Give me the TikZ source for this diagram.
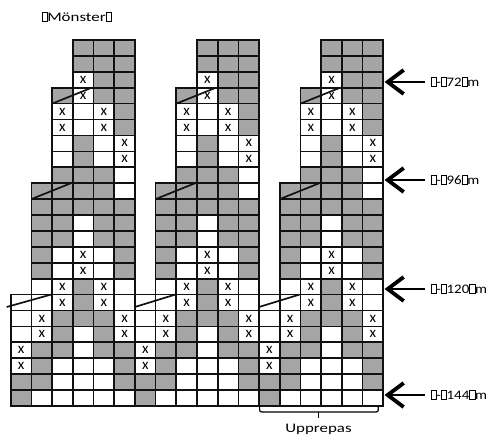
\documentclass[tikz,border=0pt]{standalone}
\usepackage{fontspec}
\setmainfont{Carlito}
\newfontfamily\lblfont[FakeStretch=1.3]{Carlito}
\newfontfamily\measfont[FakeStretch=1.15]{Carlito}
\usetikzlibrary{arrows.meta,positioning}
\definecolor{cellgray}{HTML}{A5A5A5}
\definecolor{gridline}{HTML}{111111}
\newcommand{\gbox}{{\fboxsep=0pt\fboxrule=0.5pt\fbox{\rule{0pt}{0.68em}\hspace{0.36em}}}}
\def\nocell{n}
\def\cellmarkx{x}
\def\cellmarkg{}
\def\cellmarkw{}
\tikzset{
  cellbase/.style={draw=gridline, line width=1.7pt, minimum width=20.7pt,
               minimum height=15.91pt, inner sep=0pt, outer sep=0pt,
               font=\fontsize{15}{15}\selectfont},
  cellg/.style={cellbase, fill=cellgray},
  cellw/.style={cellbase, fill=white},
  cellx/.style={cellbase, fill=white},
  slant/.style={line width=1.7pt, draw=gridline},
  lbl/.style={font=\lblfont\fontsize{13}{15}\selectfont, inner sep=0pt},
  meas/.style={font=\measfont\fontsize{13}{15}\selectfont, inner sep=0pt},
  markarrow/.style={-{Straight Barb[length=16pt,width=24pt,line width=3.8pt]},
               line width=1.6pt, shorten <=6pt},
  brack/.style={line width=1.2pt, rounded corners=2pt},
}

\begin{document}
\begin{tikzpicture}[x=1pt,y=-1pt]
  \useasboundingbox (0,0) rectangle (494,436);

  % chart, three repeats of six stitches, rows from the top
  \foreach \cells [count=\rw from 0] in {
    {n,n,n,g,g,g},
    {n,n,n,g,g,g},
    {n,n,n,x,g,g},
    {n,n,g,x,g,g},
    {n,n,x,w,x,g},
    {n,n,x,w,x,g},
    {n,n,w,g,w,x},
    {n,n,w,g,w,x},
    {n,n,g,g,g,w},
    {n,g,g,g,g,w},
    {n,g,g,g,g,g},
    {n,g,g,w,g,g},
    {n,g,g,w,g,g},
    {n,g,w,x,w,g},
    {n,g,w,x,w,g},
    {n,w,x,g,x,w},
    {w,w,x,g,x,w},
    {w,x,g,g,g,x},
    {w,x,g,w,g,x},
    {x,g,g,w,g,g},
    {x,g,w,w,w,g},
    {g,g,w,w,w,g},
    {g,w,w,w,w,w}}{
    \foreach \m in {0,1,2}{
      \foreach \kind [count=\col from 0] in \cells {
        \ifx\kind\nocell\else
          \node[cell\kind] (c-\m-\rw-\col)
            at ({21.05+20.7*(6*\m+\col)},{47.955+15.91*\rw})
            {\csname cellmark\kind\endcsname};
        \fi
      }
    }
  }

  % slanted shaping lines
  \foreach \m in {0,1,2}{
    \draw[slant] (c-\m-3-2.south west) -- ([xshift=-1.9pt]c-\m-3-3.north east);
    \draw[slant] (c-\m-9-1.south west) -- ([xshift=-1.9pt]c-\m-9-2.north east);
    \draw[slant] ([xshift={-4*(\m==0)}, yshift=3.5pt]c-\m-16-0.south west)
      -- ([xshift=-1pt]c-\m-16-1.north east);
  }

  \node[lbl] (title) at (76.5,17) {\gbox Mönster\gbox};

  % measurements
  \foreach \lab/\yy in {72/82, 96/180, 120/289, 144/395}{
    \coordinate (tip\lab) at (384.5,\yy);
    \node[meas, right=46pt of tip\lab] (lab\lab) {\gbox-\gbox\lab\gbox m};
    \draw[markarrow] (lab\lab) -- (tip\lab);
  }

  % repeat
  \draw[brack] ([xshift=0.5pt]c-2-22-0.south west) -- ++(0,6)
    -| ([xshift=-5pt]c-2-22-5.south east);
  \coordinate (bmid) at (318.5,412);
  \draw[brack] (bmid) -- ++(0,6);
  \node[lbl] (upp) at (318.5,429) {Upprepas};

\end{tikzpicture}
\end{document}
